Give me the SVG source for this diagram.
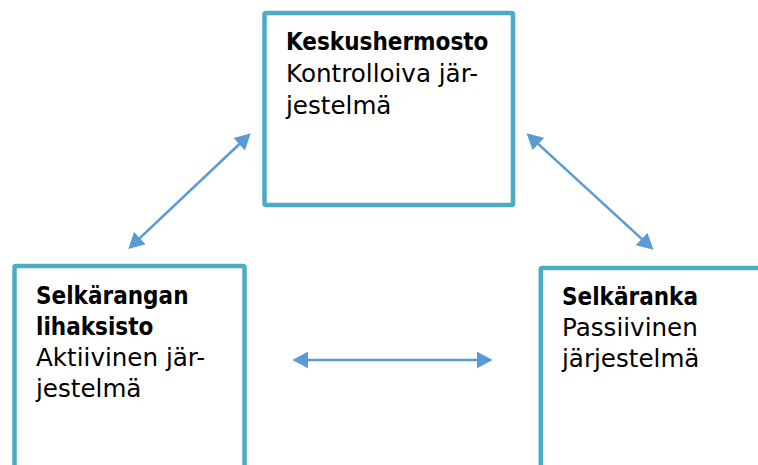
<svg xmlns="http://www.w3.org/2000/svg" width="758" height="465" viewBox="0 0 758 465">
<style>
.box{fill:#ffffff;stroke:#4BACC6;stroke-width:4.5;stroke-linejoin:round}
.t{font-family:"DejaVu Sans","Liberation Sans",sans-serif;font-size:24.6px;fill:#000000}
.b{font-family:"DejaVu Sans Condensed","DejaVu Sans","Liberation Sans",sans-serif;font-weight:bold;font-size:24px}
.arr{stroke:#5B9BD5;stroke-width:2.6;fill:none;marker-start:url(#ah);marker-end:url(#ah)}
</style>
<defs>
<marker id="ah" markerUnits="userSpaceOnUse" viewBox="0 0 16 17" markerWidth="16" markerHeight="17" refX="3" refY="8.5" orient="auto-start-reverse">
<path d="M0,0 L16,8.5 L0,17 z" fill="#5B9BD5"/>
</marker>
</defs>
<rect width="758" height="465" fill="#ffffff"/>
<g id="keskushermosto">
<rect class="box" x="264.5" y="13" width="248.5" height="192" rx="1.5"/>
<text class="t" x="286" y="50"><tspan class="b">Keskushermosto</tspan><tspan x="286" y="82">Kontrolloiva jär-</tspan><tspan x="286" y="114">jestelmä</tspan></text>
</g>
<g id="lihaksisto">
<rect class="box" x="14.5" y="266" width="230" height="230" rx="1.5"/>
<text class="t" x="36" y="304"><tspan class="b">Selkärangan</tspan><tspan class="b" x="36" y="335">lihaksisto</tspan><tspan x="36" y="366">Aktiivinen jär-</tspan><tspan x="36" y="397">jestelmä</tspan></text>
</g>
<g id="selkaranka">
<rect class="box" x="540.8" y="268" width="260" height="230" rx="1.5"/>
<text class="t" x="562" y="305"><tspan class="b">Selkäranka</tspan><tspan x="562" y="336">Passiivinen</tspan><tspan x="562" y="367">järjestelmä</tspan></text>
</g>
<g id="connectors">
<line class="arr" x1="137.7" y1="240.1" x2="241.3" y2="142.2"/>
<line class="arr" x1="536.2" y1="142.1" x2="643.9" y2="240.9"/>
<line class="arr" x1="305.3" y1="360" x2="479.7" y2="360"/>
</g>
</svg>
